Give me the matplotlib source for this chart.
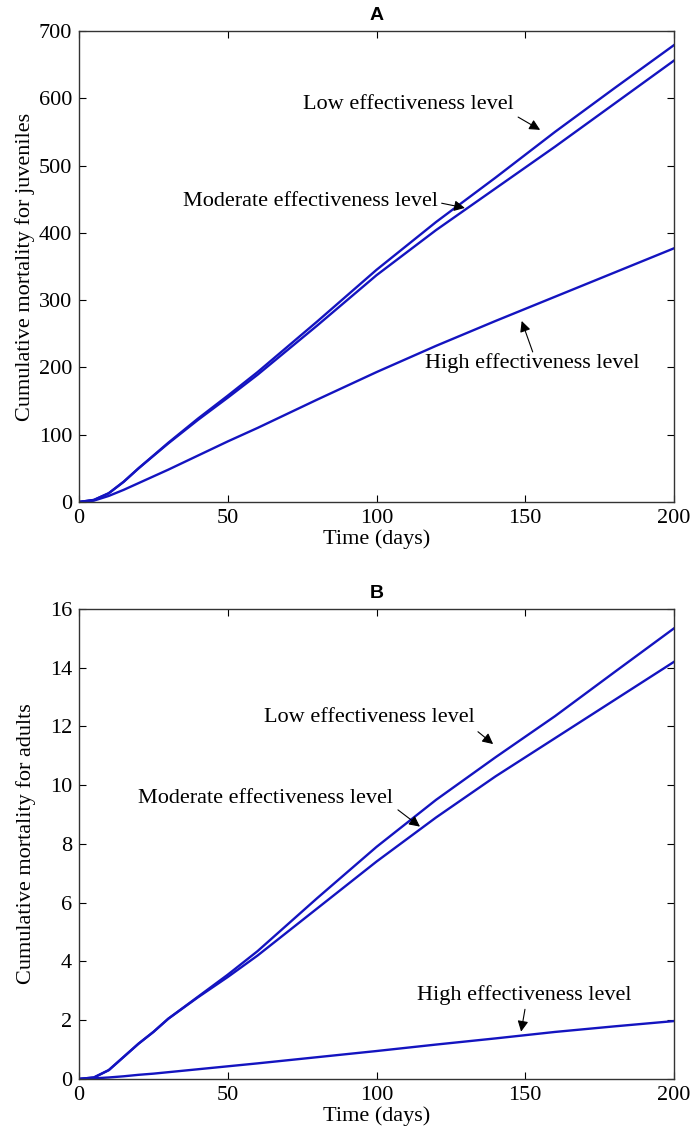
import numpy as np
import matplotlib
matplotlib.use('Agg')
import matplotlib.pyplot as plt

plt.rcParams['font.family'] = ['Liberation Serif', 'DejaVu Serif']

# time points (days)
t_a = [0, 5, 10, 15, 20, 30, 40, 50, 60, 80, 100, 120, 140, 160, 180, 200]
# panel A: cumulative mortality for juveniles
juv_low = [0, 3, 13, 30, 50, 88, 124, 158, 193, 268, 345, 416, 482, 550, 615, 679]
juv_mod = [0, 3, 13, 30, 50, 87, 122, 155, 189, 262, 337, 404, 466, 528, 592, 656]
juv_high = [0, 2, 9, 18, 28, 48, 69, 90, 110, 152, 193, 232, 269, 305, 341, 377]

# panel B: cumulative mortality for adults
t_b = [0, 5, 10, 15, 20, 25, 30, 40, 50, 60, 80, 100, 120, 140, 160, 180, 200]
adu_low = [0, 0.05, 0.3, 0.75, 1.2, 1.6, 2.05, 2.8, 3.55, 4.35, 6.15, 7.9, 9.5, 10.95, 12.35, 13.85, 15.34]
adu_mod = [0, 0.05, 0.3, 0.75, 1.2, 1.6, 2.05, 2.78, 3.47, 4.2, 5.8, 7.4, 8.9, 10.3, 11.6, 12.9, 14.2]
adu_high = [0, 0.02, 0.05, 0.09, 0.14, 0.18, 0.23, 0.33, 0.43, 0.53, 0.74, 0.95, 1.17, 1.38, 1.6, 1.79, 1.97]

blue = '#1414c0'
fs = 16

fig = plt.figure(figsize=(6.92, 11.38), dpi=100)
axA = fig.add_axes([0.1142, 0.5589, 0.8598, 0.4139])
axB = fig.add_axes([0.1142, 0.0519, 0.8598, 0.4130])


def style(ax):
    ax.set_xlim(0, 200)
    ax.set_xticks([0, 50, 100, 150, 200])
    ax.tick_params(direction='in', top=True, right=True, length=5, width=0.8,
                   labelsize=fs, pad=5)
    for s in ax.spines.values():
        s.set_linewidth(1.0)
        s.set_color('#333333')


def arrow(ax, head, tail):
    ax.annotate('', xy=head, xytext=tail,
                arrowprops=dict(arrowstyle='-|>', color='k', lw=0.8,
                                mutation_scale=16, shrinkA=0, shrinkB=0))


# Panel A
for y in (juv_low, juv_mod, juv_high):
    axA.plot(t_a, y, color=blue, lw=1.7)
style(axA)
axA.set_ylim(0, 700)
axA.set_yticks(range(0, 701, 100))
axA.set_xlabel('Time (days)', fontsize=fs, labelpad=1)
axA.set_ylabel('Cumulative mortality for juveniles', fontsize=fs, labelpad=3)
axA.set_title('A', fontsize=14, fontweight='bold', family='Liberation Sans', pad=8)

axA.text(75.3, 591, 'Low effectiveness level', fontsize=fs, va='center')
arrow(axA, (155, 553), (147.6, 572))
axA.text(35, 446, 'Moderate effectiveness level', fontsize=fs, va='center')
arrow(axA, (129.7, 437), (121.9, 444))
axA.text(116.3, 206, 'High effectiveness level', fontsize=fs, va='center')
arrow(axA, (148.8, 269), (152.5, 223))

# Panel B
for y in (adu_low, adu_mod, adu_high):
    axB.plot(t_b, y, color=blue, lw=1.7)
style(axB)
axB.set_ylim(0, 16)
axB.set_yticks(range(0, 17, 2))
axB.set_xlabel('Time (days)', fontsize=fs, labelpad=1)
axB.set_ylabel('Cumulative mortality for adults', fontsize=fs, labelpad=10)
axB.set_title('B', fontsize=14, fontweight='bold', family='Liberation Sans', pad=8)

axB.text(62.2, 12.29, 'Low effectiveness level', fontsize=fs, va='center')
arrow(axB, (139.2, 11.4), (134.1, 11.82))
axB.text(19.9, 9.53, 'Moderate effectiveness level', fontsize=fs, va='center')
arrow(axB, (114.6, 8.59), (107.2, 9.16))
axB.text(113.5, 2.84, 'High effectiveness level', fontsize=fs, va='center')
arrow(axB, (148.6, 1.61), (149.9, 2.37))

fig.savefig('out.png', dpi=100)
